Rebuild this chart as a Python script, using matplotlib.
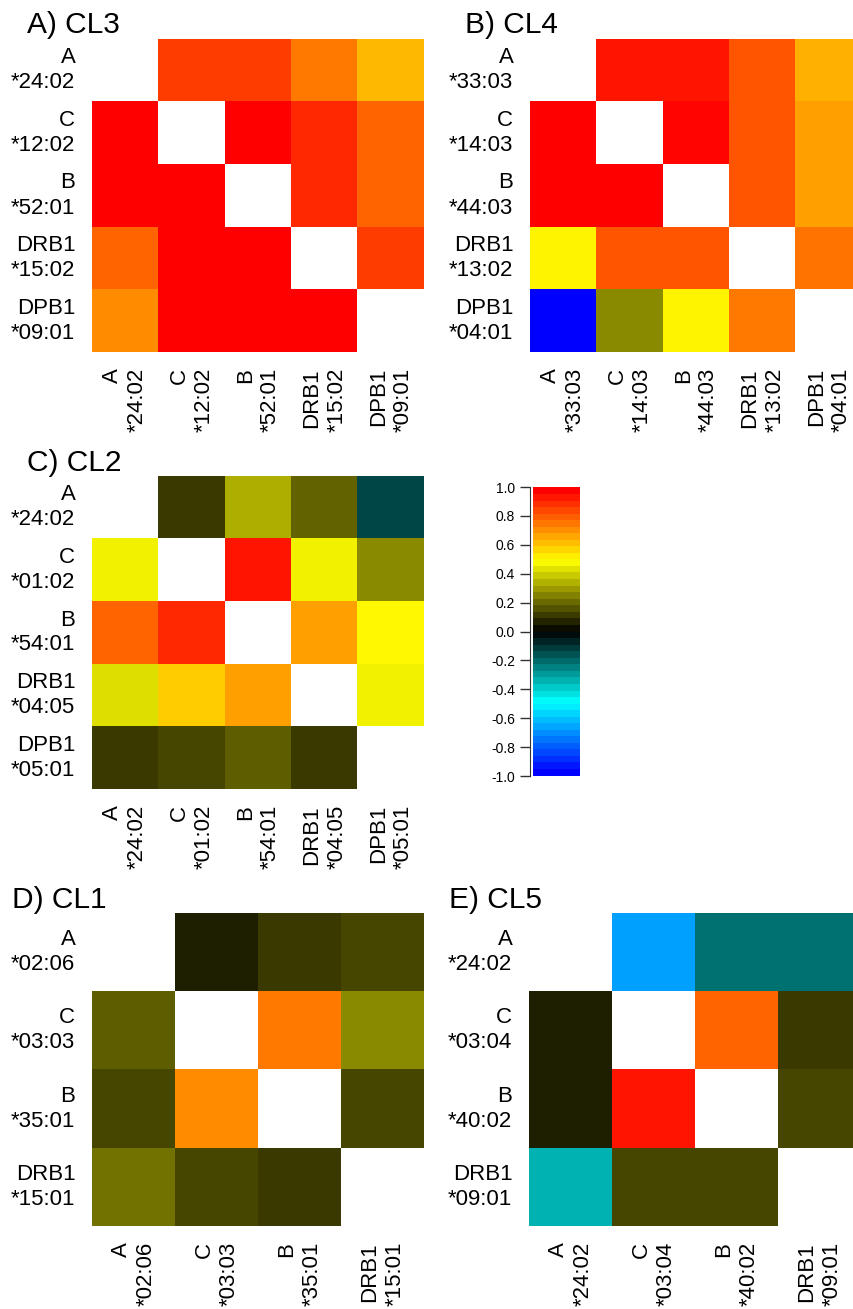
import numpy as np
import matplotlib
matplotlib.use("Agg")
import matplotlib.pyplot as plt
from matplotlib.colors import LinearSegmentedColormap

plt.rcParams['font.family'] = ['Liberation Sans', 'DejaVu Sans']

nan = np.nan

# ---- data ----
labels_A = ["A\n*24:02", "C\n*12:02", "B\n*52:01", "DRB1\n*15:02", "DPB1\n*09:01"]
values_A = [
    [nan, 0.875, 0.875, 0.76, 0.64],
    [1.00, nan, 1.00, 0.92, 0.80],
    [1.00, 1.00, nan, 0.92, 0.80],
    [0.80, 1.00, 1.00, nan, 0.88],
    [0.72, 1.00, 1.00, 1.00, nan],
]

labels_B = ["A\n*33:03", "C\n*14:03", "B\n*44:03", "DRB1\n*13:02", "DPB1\n*04:01"]
values_B = [
    [nan, 0.96, 0.96, 0.83, 0.65],
    [1.00, nan, 0.99, 0.83, 0.68],
    [1.00, 1.00, nan, 0.83, 0.68],
    [0.52, 0.83, 0.83, nan, 0.77],
    [-1.00, 0.27, 0.52, 0.76, nan],
]

labels_C = ["A\n*24:02", "C\n*01:02", "B\n*54:01", "DRB1\n*04:05", "DPB1\n*05:01"]
values_C = [
    [nan, 0.11, 0.34, 0.19, -0.14],
    [0.47, nan, 0.96, 0.47, 0.27],
    [0.80, 0.92, nan, 0.68, 0.51],
    [0.43, 0.60, 0.68, nan, 0.47],
    [0.11, 0.14, 0.18, 0.11, nan],
]

labels_D = ["A\n*02:06", "C\n*03:03", "B\n*35:01", "DRB1\n*15:01"]
values_D = [
    [nan, 0.06, 0.11, 0.14],
    [0.18, nan, 0.76, 0.27],
    [0.14, 0.72, nan, 0.14],
    [0.22, 0.14, 0.11, nan],
]

labels_E = ["A\n*24:02", "C\n*03:04", "B\n*40:02", "DRB1\n*09:01"]
values_E = [
    [nan, -0.68, -0.22, -0.22],
    [0.06, nan, 0.80, 0.11],
    [0.06, 0.96, nan, 0.14],
    [-0.35, 0.14, 0.14, nan],
]

titles = ["A) CL3", "B) CL4", "C) CL2", "D) CL1", "E) CL5"]
cbar_ticks = [-1.0, -0.8, -0.6, -0.4, -0.2, 0.0, 0.2, 0.4, 0.6, 0.8, 1.0]

# ---- colormap ----
cmap = LinearSegmentedColormap.from_list(
    "bcbyr",
    [(0.0, (0, 0, 1)), (0.25, (0, 1, 1)), (0.5, (0, 0, 0)),
     (0.75, (1, 1, 0)), (1.0, (1, 0, 0))], N=256)
cmap.set_bad("white")
cmap_bar = cmap.resampled(44)

W, H = 854, 1309
fig = plt.figure(figsize=(W / 100, H / 100), dpi=100)


def add_px(l, t, w, h):
    return fig.add_axes([l / W, 1 - (t + h) / H, w / W, h / H])


def heat(ax, vals, labels):
    data = np.ma.masked_invalid(np.array(vals, dtype=float))
    ax.imshow(data, cmap=cmap, vmin=-1, vmax=1, aspect="auto",
              interpolation="nearest")
    n = len(labels)
    ax.set_xticks(range(n))
    ax.set_yticks(range(n))
    ax.set_xticklabels(labels, rotation=90, ha="center", va="top",
                       multialignment="right", fontsize=16, linespacing=1.25)
    ax.set_yticklabels(labels, ha="right", va="center",
                       multialignment="right", fontsize=16, linespacing=1.25)
    ax.tick_params(axis="x", length=0, pad=11.5)
    ax.tick_params(axis="y", length=0, pad=12)
    for s in ax.spines.values():
        s.set_visible(False)


panels = [
    (92, 39, values_A, labels_A, (27, 33)),
    (530, 39, values_B, labels_B, (465, 33)),
    (92, 476, values_C, labels_C, (27, 471)),
    (92, 913, values_D, labels_D, (12, 908)),
    (529, 913, values_E, labels_E, (449, 908)),
]

for (l, t, vals, labs, (tx, ty)), title in zip(panels, titles):
    ax = add_px(l, t, 332, 313)
    heat(ax, vals, labs)
    fig.text(tx / W, 1 - ty / H, title, fontsize=21.5, ha="left",
             va="baseline")

# ---- colorbar ----
cax = add_px(533, 487, 47, 289)
grad = np.linspace(-1, 1, 400).reshape(-1, 1)
cax.imshow(grad, cmap=cmap_bar, vmin=-1, vmax=1, aspect="auto",
           origin="lower", extent=[0, 1, -1, 1], interpolation="nearest")
cax.set_xlim(0, 1)
cax.set_ylim(-1, 1)
cax.set_xticks([])
cax.set_yticks(cbar_ticks)
cax.set_yticklabels([f"{v:.1f}" if abs(v) > 1e-9 else "0.0" for v in cbar_ticks],
                    fontsize=9, color="#333333")
cax.tick_params(axis="y", length=7, width=1, pad=4, color="#333333")
for name, s in cax.spines.items():
    if name == "left":
        s.set_position(("outward", 2))
        s.set_color("#333333")
    else:
        s.set_visible(False)

fig.savefig("out.png", dpi=100)
